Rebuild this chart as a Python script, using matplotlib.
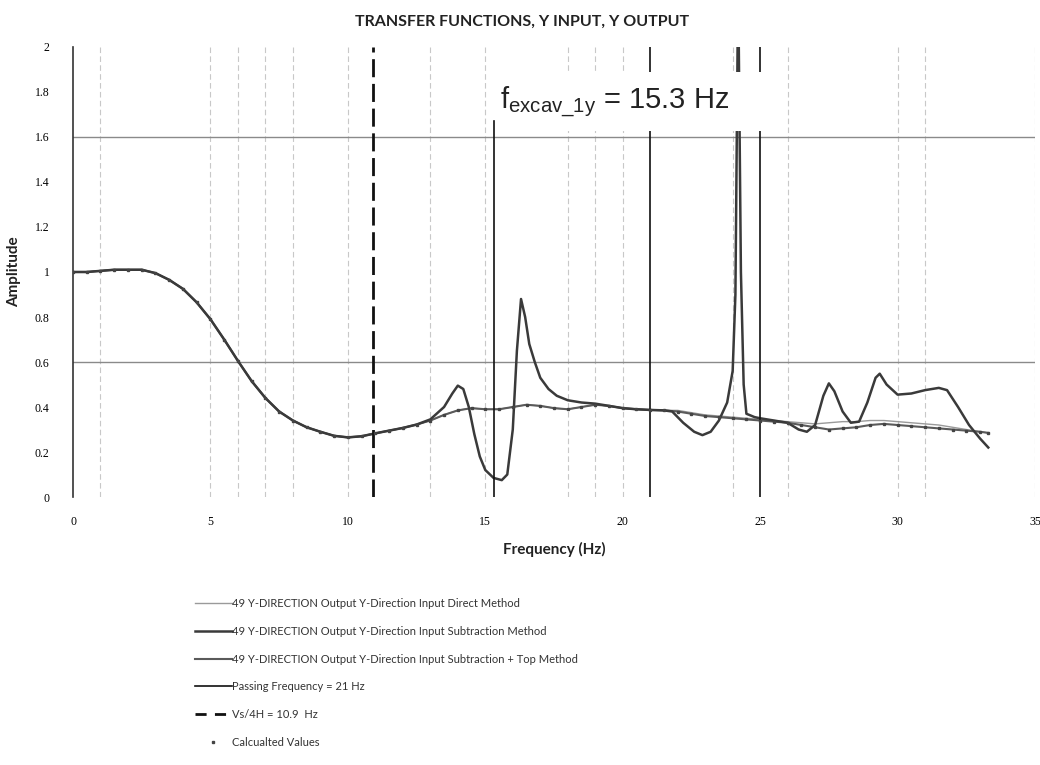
import matplotlib
matplotlib.use('Agg')
import matplotlib.pyplot as plt
from matplotlib.lines import Line2D
from matplotlib.patches import Rectangle

plt.rcParams['mathtext.fontset'] = 'custom'
plt.rcParams['mathtext.rm'] = 'Liberation Sans'

NARROW = ['Lato', 'DejaVu Sans']

# ---------- data ----------
f_grid = [0, 0.5, 1, 1.5, 2, 2.5, 3, 3.5, 4, 4.5, 5, 5.5, 6, 6.5, 7, 7.5, 8, 8.5,
          9, 9.5, 10, 10.5, 11, 11.5, 12, 12.5, 13, 13.5, 14, 14.5, 15, 15.5, 16,
          16.5, 17, 17.5, 18, 18.5, 19, 19.5, 20, 20.5, 21, 21.5, 22, 22.5, 23,
          23.5, 24, 24.5, 25, 25.5, 26, 26.5, 27, 27.5, 28, 28.5, 29, 29.5, 30,
          30.5, 31, 31.5, 32, 32.5, 33, 33.3]

amp_direct = [1.00, 1.00, 1.005, 1.01, 1.01, 1.01, 0.995, 0.965, 0.925, 0.865,
              0.79, 0.70, 0.605, 0.515, 0.44, 0.38, 0.34, 0.31, 0.29, 0.272,
              0.265, 0.27, 0.283, 0.295, 0.307, 0.322, 0.34, 0.365, 0.385, 0.395,
              0.39, 0.39, 0.40, 0.41, 0.405, 0.395, 0.39, 0.40, 0.41, 0.405,
              0.395, 0.39, 0.387, 0.385, 0.385, 0.375, 0.365, 0.36, 0.355, 0.35,
              0.345, 0.34, 0.335, 0.33, 0.325, 0.33, 0.335, 0.335, 0.34, 0.34,
              0.335, 0.33, 0.325, 0.32, 0.31, 0.30, 0.29, 0.285]

amp_top = [1.00, 1.00, 1.005, 1.01, 1.01, 1.01, 0.995, 0.965, 0.925, 0.865,
           0.79, 0.70, 0.605, 0.515, 0.44, 0.38, 0.34, 0.31, 0.29, 0.272,
           0.265, 0.27, 0.283, 0.295, 0.307, 0.322, 0.34, 0.365, 0.385, 0.395,
           0.39, 0.39, 0.40, 0.41, 0.405, 0.395, 0.39, 0.40, 0.41, 0.405,
           0.395, 0.39, 0.387, 0.385, 0.38, 0.37, 0.36, 0.355, 0.35, 0.345,
           0.34, 0.335, 0.33, 0.32, 0.31, 0.30, 0.305, 0.31, 0.32, 0.325,
           0.32, 0.315, 0.31, 0.305, 0.30, 0.295, 0.29, 0.285]

f_sub = [0, 0.5, 1, 1.5, 2, 2.5, 3, 3.5, 4, 4.5, 5, 5.5, 6, 6.5, 7, 7.5, 8, 8.5,
         9, 9.5, 10, 10.5, 11, 11.5, 12, 12.5, 13, 13.5, 13.8, 14.0, 14.2, 14.4,
         14.6, 14.8, 15.0, 15.3, 15.6, 15.8, 16.0, 16.15, 16.3, 16.45, 16.6, 16.8,
         17.0, 17.3, 17.6, 18.0, 18.5, 19, 19.5, 20, 20.5, 21, 21.5, 21.8, 22.2,
         22.6, 22.9, 23.2, 23.5, 23.8, 24.0, 24.1, 24.2, 24.3, 24.4, 24.5, 24.8,
         25, 25.5, 26, 26.4, 26.7, 27.0, 27.3, 27.5, 27.7, 28.0, 28.3, 28.6, 28.9,
         29.2, 29.35, 29.6, 30.0, 30.5, 31.0, 31.5, 31.8, 32.2, 32.6, 33.0, 33.3]

amp_sub = [1.00, 1.00, 1.005, 1.01, 1.01, 1.01, 0.995, 0.965, 0.925, 0.865,
           0.79, 0.70, 0.605, 0.515, 0.44, 0.38, 0.34, 0.31, 0.29, 0.272,
           0.265, 0.27, 0.283, 0.295, 0.307, 0.322, 0.345, 0.40, 0.46, 0.495,
           0.48, 0.40, 0.28, 0.18, 0.12, 0.085, 0.075, 0.10, 0.30, 0.65, 0.88,
           0.80, 0.68, 0.60, 0.53, 0.48, 0.45, 0.43, 0.42, 0.415, 0.405, 0.395,
           0.39, 0.387, 0.385, 0.38, 0.33, 0.29, 0.275, 0.29, 0.34, 0.42, 0.56,
           0.90, 2.30, 1.00, 0.50, 0.37, 0.355, 0.35, 0.34, 0.33, 0.30, 0.29,
           0.32, 0.45, 0.505, 0.47, 0.38, 0.33, 0.335, 0.42, 0.53, 0.548, 0.50,
           0.455, 0.46, 0.475, 0.485, 0.475, 0.40, 0.32, 0.26, 0.22]

# calculated points sit on the top-method curve
amp_calc = amp_top

grid_x = [1, 5, 6, 7, 8, 10, 13, 15, 18, 19, 20, 24, 26, 30, 31, 35]
grid_y = [0.6, 1.6]

f_passing = 21.0
f_vs4h = 10.9
f_excav = 15.3
f_extra = 25.0

x_ticks = [0, 5, 10, 15, 20, 25, 30, 35]
y_ticks = [0, 0.2, 0.4, 0.6, 0.8, 1.0, 1.2, 1.4, 1.6, 1.8, 2.0]
y_tick_labels = ['0', '0.2', '0.4', '0.6', '0.8', '1', '1.2', '1.4', '1.6', '1.8', '2']

labels = ['49 Y-DIRECTION Output Y-Direction Input Direct Method',
          '49 Y-DIRECTION Output Y-Direction Input Subtraction Method',
          '49 Y-DIRECTION Output Y-Direction Input Subtraction + Top Method',
          'Passing Frequency = 21 Hz',
          'Vs/4H = 10.9  Hz',
          'Calcualted Values']

# ---------- figure ----------
fig = plt.figure(figsize=(10.4, 7.65), dpi=100)
ax = fig.add_axes([0.0702, 0.3503, 0.925, 0.5883])

for gx in grid_x:
    ax.axvline(gx, color='#c8c8c8', lw=0.8, ls=(0, (5, 3)), zorder=1)
for gy in grid_y:
    ax.axhline(gy, color='#8a8a8a', lw=1.0, zorder=1)

ax.plot(f_grid, amp_direct, color='#9a9a9a', lw=1.0, zorder=3)
ax.plot(f_sub, amp_sub, color='#3a3a3a', lw=1.8, zorder=4)
ax.plot(f_grid, amp_top, color='#5a5a5a', lw=1.5, zorder=3)
ax.plot(f_grid, amp_calc, ls='none', marker='s', ms=1.8, color='#444444', zorder=5)

ax.axvline(f_passing, color='#111111', lw=1.2, zorder=4)
ax.axvline(f_extra, color='#111111', lw=1.2, zorder=4)
ax.axvline(f_vs4h, color='#111111', lw=2.0, ls=(0, (6.5, 2.4)), zorder=4)
ax.plot([f_excav, f_excav], [0, 1.67], color='#111111', lw=1.2, zorder=4)

# white box behind the annotation hides the lines underneath
ax.add_patch(Rectangle((15.45, 1.625), 10.1, 0.265, facecolor='white',
                       edgecolor='none', zorder=6))
ax.text(15.55, 1.755, r'$\mathrm{f_{excav\_1y}}$ = 15.3 Hz', fontsize=21,
        family='Liberation Sans', color='#222222', va='center', zorder=7)

ax.set_xlim(0, 35)
ax.set_ylim(0, 2)
ax.set_xticks(x_ticks)
ax.set_xticklabels([str(t) for t in x_ticks], family='Liberation Serif', fontsize=8.5)
ax.set_yticks(y_ticks)
ax.set_yticklabels(y_tick_labels, family='Liberation Serif', fontsize=8.5)
ax.tick_params(axis='x', length=0, pad=14)
ax.tick_params(axis='y', length=0, pad=17)
for s in ['top', 'right', 'bottom']:
    ax.spines[s].set_visible(False)
ax.spines['left'].set_color('#333333')
ax.spines['left'].set_linewidth(1.2)

ax.set_xlabel('Frequency (Hz)', family=NARROW, fontweight='bold', fontsize=11,
              color='#222222', labelpad=10)
ax.set_ylabel('Amplitude', family=NARROW, fontweight='bold', fontsize=11,
              color='#222222', labelpad=10)
fig.text(0.502, 0.971, 'TRANSFER FUNCTIONS, Y INPUT, Y OUTPUT', family=NARROW,
         fontweight='bold', fontsize=11.5, color='#222222', ha='center', va='center')

handles = [Line2D([], [], color='#9a9a9a', lw=1.0),
           Line2D([], [], color='#3a3a3a', lw=1.8),
           Line2D([], [], color='#5a5a5a', lw=1.5),
           Line2D([], [], color='#111111', lw=1.2),
           Line2D([], [], color='#111111', lw=2.0, ls=(0, (4, 3))),
           Line2D([], [], ls='none', marker='s', ms=1.8, color='#444444')]
fig.legend(handles, labels, loc='upper left', bbox_to_anchor=(0.1875, 0.218),
           frameon=False, prop={'family': NARROW, 'size': 8}, handlelength=3.3,
           handletextpad=0.0, labelspacing=1.5, borderpad=0, borderaxespad=0,
           labelcolor='#333333')

plt.savefig('out.png', dpi=100)
